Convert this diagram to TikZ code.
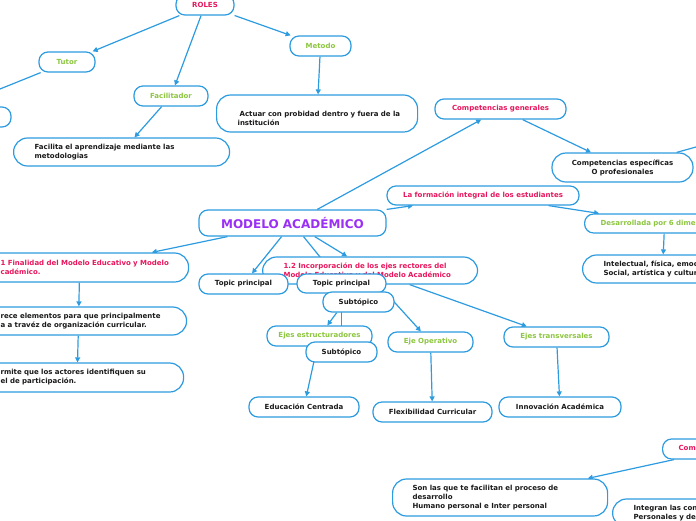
\documentclass[tikz,border=0pt]{standalone}
\usepackage{fontspec}
\setmainfont{DejaVu Sans}
\usetikzlibrary{arrows.meta, positioning, backgrounds}
\definecolor{mapblue}{HTML}{2D9BE0}
\definecolor{notepink}{HTML}{E8175D}
\definecolor{leafgreen}{HTML}{8DC63F}
\definecolor{titlepurple}{HTML}{9B30F5}
\definecolor{inkblack}{HTML}{1A1A1A}

\begin{document}
\begin{tikzpicture}[line cap=round, line join=round, x=1pt, y=-1pt,
    caja/.style={draw=mapblue, fill=white, rounded corners=9pt, line width=1.2pt,
      minimum height=20pt, inner sep=2pt, text=inkblack,
      font=\fontsize{7}{9}\selectfont\bfseries},
    alta/.style={rounded corners=14pt},
    rosa/.style={text=notepink},
    verde/.style={text=leafgreen},
    titulo/.style={text=titlepurple, font=\fontsize{12}{14}\selectfont\bfseries},
    flecha/.style={draw=mapblue, line width=1.2pt, -{Triangle[length=5pt,width=5pt]}}]

  \useasboundingbox (0,0) rectangle (696,520);
  \clip (0,0) rectangle (696,520);

  % Rama ROLES (arriba)
  \node[caja, rosa, minimum width=58pt] (Roles) at (205,5) {ROLES};
  \node[caja, verde, minimum width=56pt] (Tutor) at (67,62) {Tutor};
  \node[caja, minimum width=161pt] (TutorSub) at (-69.5,117) {};
  \node[caja, verde, minimum width=74pt] (Fac) at (171,96) {Facilitador};
  \node[caja, verde, minimum width=61pt] (Met) at (320.5,46) {Metodo};
  \node[caja, alta, anchor=west, minimum width=201pt, minimum height=37pt,
        text width=159pt, align=left] (Actuar) at (216,113.5)
        {\strut\\\mbox{\hspace*{2pt}Actuar con probidad dentro y fuera de la}\\institución};
  \node[caja, alta, anchor=west, minimum width=216pt, minimum height=28pt,
        text width=174pt, align=left] (Facilita) at (13,152)
        {Facilita el aprendizaje mediante las\\metodologias};

  % Nodo central
  \node[caja, titulo, minimum width=187pt, minimum height=26pt] (Modelo) at (292.5,223) {MODELO ACADÉMICO};

  % 1.1 Finalidad (izquierda)
  \node[caja, alta, rosa, anchor=west, minimum width=218pt, minimum height=29pt,
        text width=158pt, align=left] (Fin) at (-30,267.5)
        {\mbox{1 Finalidad del Modelo Educativo y Modelo}\\cadémico.};
  \node[caja, alta, anchor=west, minimum width=216pt, minimum height=28pt,
        text width=156pt, align=left] (Ofrece) at (-30,321)
        {\mbox{rece elementos para que principalmente}\\\mbox{a a travéz de organización curricular.}};
  \node[caja, alta, anchor=west, minimum width=213pt, minimum height=29pt,
        text width=153pt, align=left] (Permite) at (-30,377.5)
        {\mbox{rmite que los actores identifiquen su}\\el de participación.};

  % 1.2 Incorporacion y sus ejes
  \node[caja, alta, rosa, anchor=west, minimum width=215pt, minimum height=27pt,
        text width=173pt, align=left] (Incorp) at (262,270.5)
        {\mbox{1.2 Incorporación de los ejes rectores del}\\\mbox{Modelo Educativo y del Modelo Académico}};
  \node[caja, minimum width=89pt] (TopIzq) at (243.5,284) {Topic principal};
  \node[caja, minimum width=89pt, minimum height=19pt] (TopDer) at (341.5,283.5) {Topic principal};
  \node[caja, minimum width=71pt] (SubA) at (358.5,302) {Subtópico};
  \node[caja, verde, minimum width=105pt] (EjesEst) at (319.5,336) {Ejes estructuradores};
  \node[caja, minimum width=71pt] (SubB) at (341.5,352) {Subtópico};
  \node[caja, verde, minimum width=85pt] (EjeOp) at (430.5,342) {Eje Operativo};
  \node[caja, verde, minimum width=105pt] (EjesTr) at (556.5,337) {Ejes transversales};
  \node[caja, minimum width=110pt] (Educ) at (304,407) {Educación Centrada};
  \node[caja, minimum width=119pt] (Flex) at (432.5,412) {Flexibilidad Curricular};
  \node[caja, minimum width=122pt] (Innov) at (560,407) {Innovación Académica};

  % Competencias y formacion (derecha)
  \node[caja, rosa, minimum width=131pt] (CompGen) at (500.5,109) {Competencias generales};
  \node[caja, alta, minimum width=141pt, minimum height=29pt, align=center] (CompEsp) at (622.5,167.5)
        {Competencias específicas\\O profesionales};
  \node[caja, minimum width=80pt] (EspSub) at (800,118) {};
  \node[caja, rosa, minimum width=192pt, minimum height=19pt] (Form) at (483,195.5)
        {La formación integral de los estudiantes};
  \node[caja, verde, anchor=west, minimum width=160pt, minimum height=19pt,
        text width=128pt, align=left] (Desarr) at (584,223.5) {Desarrollada por 6 dimen};
  \node[caja, alta, anchor=west, minimum width=160pt, minimum height=28pt,
        text width=118pt, align=left] (Intel) at (582,269)
        {Intelectual, física, emoc\\Social, artística y cultura};

  % Competencias (abajo a la derecha)
  \node[caja, rosa, anchor=west, minimum width=120pt, text width=88pt, align=left] (Comp) at (662,449) {Comp};
  \node[caja, alta, anchor=west, minimum width=215pt, minimum height=37pt,
        text width=175pt, align=left] (SonLas) at (392,497.5)
        {Son las que te facilitan el proceso de\\desarrollo\\Humano personal e Inter personal};
  \node[caja, alta, anchor=west, minimum width=150pt, minimum height=28pt,
        text width=108pt, align=left] (Integran) at (612,513)
        {Integran las con\\Personales y de};

  % Conectores
  \begin{scope}[on background layer]
    \draw[flecha] (Roles) -- (Tutor);
    \draw[flecha] (Roles) -- (Fac);
    \draw[flecha] (Roles) -- (Met);
    \draw[flecha] (Met) -- (Actuar);
    \draw[flecha] (Fac) -- (Facilita);
    \draw[flecha] (Tutor) -- (TutorSub);
    \draw[flecha] (Modelo) -- (Fin);
    \draw[flecha] (Fin) -- (Ofrece);
    \draw[flecha] (Ofrece) -- (Permite);
    \draw[flecha] (Modelo) -- (TopIzq);
    \draw[flecha] (Modelo) -- (Incorp);
    \draw[flecha] (Modelo) -- (TopDer);
    \draw[flecha] (TopDer) -- (SubB);
    \draw[flecha] (SubA.206) -- (EjesEst);
    \draw[flecha] (TopDer.south east) -- (EjeOp);
    \draw[flecha] (EjesEst) -- (Educ);
    \draw[flecha] (EjeOp) -- (Flex);
    \draw[flecha] (Incorp) -- (EjesTr);
    \draw[flecha] (EjesTr) -- (Innov);
    \draw[flecha] (Modelo) -- (CompGen);
    \draw[flecha] (CompGen) -- (CompEsp);
    \draw[flecha] (CompEsp) -- (EspSub);
    \draw[flecha] (Modelo) -- (Form);
    \draw[flecha] (Form) -- (Desarr);
    \draw[flecha] (Desarr) -- (Intel);
    \draw[flecha] (Comp) -- (SonLas);
  \end{scope}
\end{tikzpicture}
\end{document}
